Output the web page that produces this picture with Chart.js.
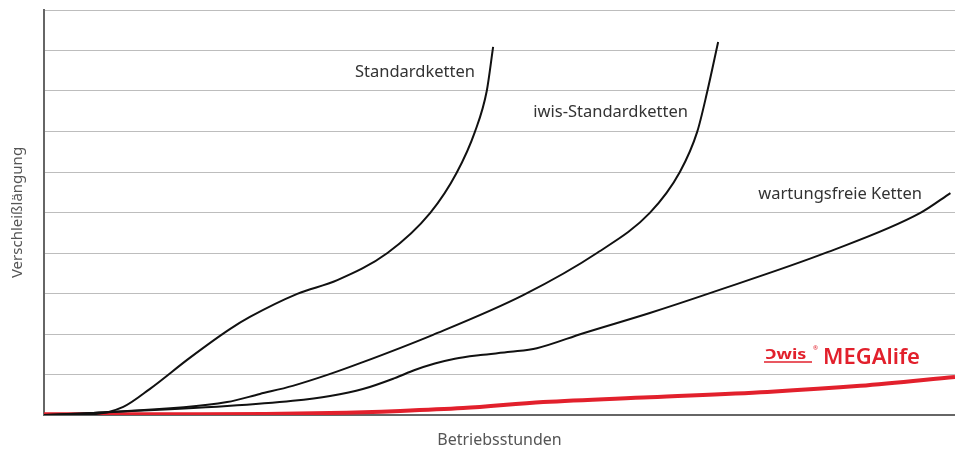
<!DOCTYPE html>
<html>
<head>
<meta charset="utf-8">
<script src="https://cdn.jsdelivr.net/npm/chart.js@4.4.1/dist/chart.umd.min.js"></script>
<style>
  html, body { margin: 0; padding: 0; background: #fff; }
  #wrap { width: 955px; height: 450px; position: relative; }
</style>
</head>
<body>
<div id="wrap"><canvas id="wear"></canvas></div>
<script>
// x = operating hours (relative, 0..100), y = wear elongation (relative, 0..10)
const standardX = [0, 5.4, 8.7, 11.6, 16.0, 20.4, 22.6, 27.8, 32.2, 37.7, 42.4, 45.3, 47.3, 48.6, 49.3];
const standardY = [0, 0.02, 0.2, 0.64, 1.41, 2.12, 2.42, 2.99, 3.33, 4.0, 4.99, 5.98, 6.99, 8.0, 9.09];

const iwisX = [0, 5.4, 20.1, 23.7, 27.3, 31.1, 34.7, 42.7, 52.6, 60.7, 66.5, 69.8, 71.7, 72.8, 74.0];
const iwisY = [0, 0.05, 0.32, 0.52, 0.72, 0.99, 1.28, 1.98, 2.96, 4.0, 4.99, 6.0, 6.99, 7.98, 9.21];

const freeX = [0, 5.4, 20.1, 27.3, 31.4, 35.0, 38.5, 40.7, 42.9, 45.1, 47.9, 51.2, 54.1, 59.2, 66.5, 73.1, 86.0, 96.2, 99.5];
const freeY = [0, 0.05, 0.22, 0.35, 0.47, 0.64, 0.91, 1.11, 1.27, 1.39, 1.48, 1.56, 1.65, 2.02, 2.52, 3.01, 4.02, 4.99, 5.48];

const megaX = [0, 17.1, 31.4, 39.1, 46.0, 54.8, 66.5, 79.4, 89.6, 100];
const megaY = [0.02, 0.02, 0.05, 0.1, 0.17, 0.32, 0.44, 0.57, 0.72, 0.94];

const seriesNames = ['Standardketten', 'iwis-Standardketten', 'wartungsfreie Ketten', 'MEGAlife'];

const toPoints = (xs, ys) => xs.map((x, i) => ({ x: x, y: ys[i] }));

const RED = '#e2202c';
const FONT = '"Noto Sans", "Open Sans", sans-serif';

// curve labels + logo, drawn next to the lines
const curveLabels = {
  id: 'curveLabels',
  afterDatasetsDraw(chart) {
    const ctx = chart.ctx;
    ctx.save();
    ctx.fillStyle = '#333';
    ctx.font = '16.5px ' + FONT;
    ctx.textBaseline = 'middle';
    ctx.textAlign = 'right';
    ctx.fillText(seriesNames[0], 475, 72);
    ctx.fillText(seriesNames[1], 688, 112);
    ctx.fillText(seriesNames[2], 922, 194);

    // iwis logo (rough)
    ctx.fillStyle = RED;
    ctx.strokeStyle = RED;
    ctx.textAlign = 'left';
    ctx.textBaseline = 'alphabetic';
    ctx.save();
    ctx.translate(765, 359);
    ctx.scale(1.2, 1);
    ctx.font = 'bold 15px ' + FONT;
    ctx.fillText('Ɔwis', 0, 0);
    ctx.restore();
    ctx.lineWidth = 1.5;
    ctx.beginPath();
    ctx.moveTo(764, 362);
    ctx.lineTo(812, 362);
    ctx.stroke();
    ctx.font = '6px ' + FONT;
    ctx.fillText('®', 813, 350);

    ctx.font = '600 22px ' + FONT;
    ctx.fillText(seriesNames[3], 823, 364);
    ctx.restore();
  }
};

new Chart('wear', {
  type: 'line',
  data: {
    datasets: [
      { label: seriesNames[0], data: toPoints(standardX, standardY), borderColor: '#111', borderWidth: 2 },
      { label: seriesNames[1], data: toPoints(iwisX, iwisY), borderColor: '#111', borderWidth: 2 },
      { label: seriesNames[2], data: toPoints(freeX, freeY), borderColor: '#111', borderWidth: 2 },
      { label: seriesNames[3], data: toPoints(megaX, megaY), borderColor: RED, borderWidth: 4 },
    ],
  },
  options: {
    responsive: true,
    maintainAspectRatio: false,
    animation: false,
    layout: { padding: { top: 10, right: 0, left: 0, bottom: 0 } },
    elements: {
      point: { radius: 0 },
      line: { cubicInterpolationMode: 'monotone', fill: false },
    },
    plugins: {
      legend: { display: false },
      tooltip: { enabled: false },
    },
    scales: {
      x: {
        type: 'linear',
        min: 0,
        max: 100,
        grid: { display: false },
        border: { color: '#666', width: 2 },
        ticks: { display: false },
        title: {
          display: true,
          text: 'Betriebsstunden',
          color: '#555',
          font: { family: FONT, size: 16 },
          padding: { top: 0, bottom: 0 },
        },
        afterFit: s => { s.height = 35; },
      },
      y: {
        min: 0,
        max: 10,
        grid: { color: '#bdbdbd', lineWidth: 1, drawTicks: false },
        border: { color: '#666', width: 2 },
        ticks: { display: false, stepSize: 1 },
        title: {
          display: true,
          text: 'Verschleißlängung',
          color: '#555',
          font: { family: FONT, size: 15 },
          padding: { top: 9, bottom: 0 },
        },
        afterFit: s => { s.width = 44; },
      },
    },
  },
  plugins: [curveLabels],
});
</script>
</body>
</html>
